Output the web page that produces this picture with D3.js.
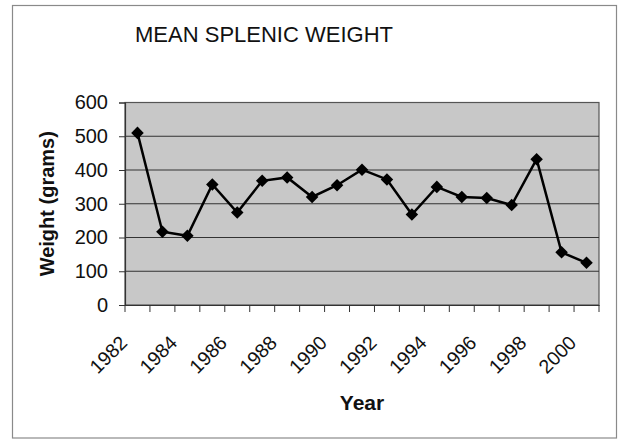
<!DOCTYPE html>
<html><head><meta charset="utf-8">
<script src="https://cdn.jsdelivr.net/npm/d3@7"></script>
<style>body{margin:0;background:#fff}svg{display:block}text{font-family:"Liberation Sans",Arial,sans-serif}</style>
</head><body><svg id="c" width="618" height="440"></svg>
<script>
const years = ["1982","1983","1984","1985","1986","1987","1988","1989","1990","1991","1992","1993","1994","1995","1996","1997","1998","1999","2000"];
const weights = [510,217,205,357,274,368,378,320,355,401,372,268,350,320,317,296,432,156,125];
const yTicks = [0,100,200,300,400,500,600];
const xLabels = ["1982","1984","1986","1988","1990","1992","1994","1996","1998","2000"];

const svg = d3.select("#c");
const m = {l:125, r:599, t:102.5, b:305};
svg.append("rect").attr("x",12.5).attr("y",5.5).attr("width",604).attr("height",432.5)
  .attr("fill","#fff").attr("stroke","#8a8a8a").attr("stroke-width",1.2);

const x = d3.scaleBand().domain(years).range([m.l,m.r]).padding(0);
const y = d3.scaleLinear().domain([0,600]).range([m.b,m.t]);

svg.append("rect").attr("x",m.l).attr("y",m.t).attr("width",m.r-m.l).attr("height",m.b-m.t)
  .attr("fill","#c8c8c8").attr("stroke","#555").attr("stroke-width",1.2);

svg.append("g").selectAll("line").data(yTicks.filter(d=>d>0&&d<600)).join("line")
  .attr("x1",m.l).attr("x2",m.r).attr("y1",d=>y(d)).attr("y2",d=>y(d))
  .attr("stroke","#333").attr("stroke-width",1);

// y axis
const ya = svg.append("g").attr("transform",`translate(${m.l},0)`)
  .call(d3.axisLeft(y).tickValues(yTicks).tickSize(6).tickPadding(11));
ya.select(".domain").attr("stroke","#333").attr("stroke-width",1.2);
ya.selectAll(".tick line").attr("stroke","#333");
ya.selectAll("text").attr("font-size",20).attr("fill","#111");

// x axis
const xa = svg.append("g").attr("transform",`translate(0,${m.b})`)
  .call(d3.axisBottom(x).tickValues(xLabels).tickSize(0).tickPadding(0));
xa.select(".domain").attr("stroke","#333").attr("stroke-width",1.2);
xa.selectAll(".tick text").attr("font-size",19.5).attr("fill","#111")
  .attr("text-anchor","end").attr("dy",0).attr("y",0)
  .attr("transform","translate(-9,39) rotate(-45)");
const edges = years.map(d=>x(d)).concat([x.range()[1]]);
svg.append("g").selectAll("line").data(edges).join("line")
  .attr("x1",d=>d).attr("x2",d=>d).attr("y1",m.b).attr("y2",m.b+7)
  .attr("stroke","#333").attr("stroke-width",1);

// line
const line = d3.line().x((d,i)=>x(years[i])+x.bandwidth()/2).y(d=>y(d));
svg.append("path").datum(weights).attr("d",line).attr("fill","none")
  .attr("stroke","#000").attr("stroke-width",2.5);
svg.append("g").selectAll("path").data(weights).join("path")
  .attr("d",d3.symbol().type(d3.symbolDiamond2).size(100))
  .attr("transform",(d,i)=>`translate(${x(years[i])+x.bandwidth()/2},${y(d)})`)
  .attr("fill","#000");

// titles
svg.append("text").attr("x",264).attr("y",42).attr("text-anchor","middle")
  .attr("font-size",22).attr("fill","#111").text("MEAN SPLENIC WEIGHT");
svg.append("text").attr("x",362).attr("y",410).attr("text-anchor","middle")
  .attr("font-size",21).attr("font-weight","bold").attr("fill","#111").text("Year");
svg.append("text").attr("transform",`translate(54,${(m.t+m.b)/2}) rotate(-90)`).attr("text-anchor","middle")
  .attr("font-size",20).attr("font-weight","bold").attr("fill","#111").text("Weight (grams)");
</script></body></html>
